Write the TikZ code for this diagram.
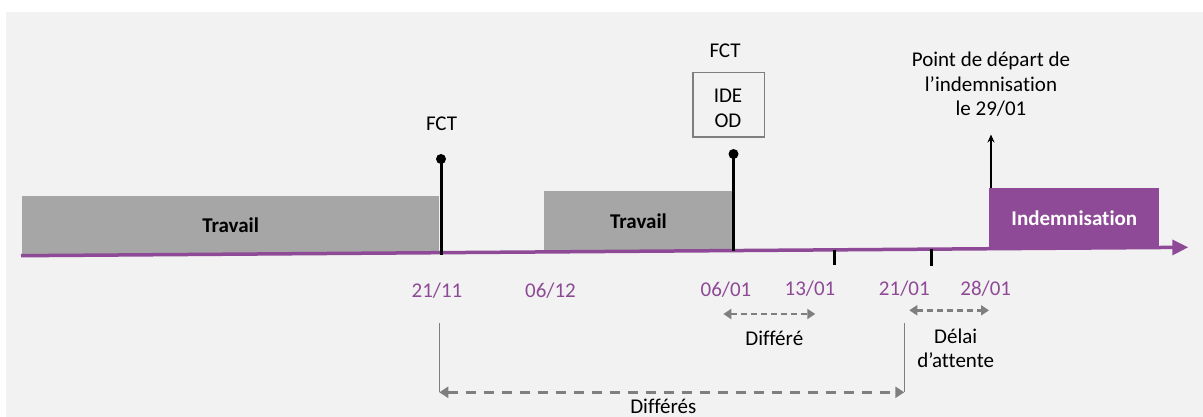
\documentclass[tikz,border=0pt]{standalone}
\usepackage{fontspec}
\setmainfont{Carlito}[Ligatures=CommonOff]
\usetikzlibrary{arrows.meta}
\definecolor{panelbg}{HTML}{F2F2F2}
\definecolor{boxgray}{HTML}{A6A6A6}
\definecolor{purp}{HTML}{8E4A96}
\definecolor{dgray}{HTML}{7F7F7F}
\begin{document}
\begin{tikzpicture}[x=1pt,y=-1pt,
  every node/.style={inner sep=0pt, outer sep=0pt, font=\fontsize{21}{24.5}\selectfont},
  workbox/.style={fill=boxgray, anchor=north west, font=\fontsize{21}{24.5}\selectfont\bfseries},
  indbox/.style={fill=purp, anchor=north west, text=white, font=\fontsize{21}{24.5}\selectfont\bfseries},
  datelbl/.style={text=purp},
  fctdot/.style={circle, fill=black, minimum size=10pt},
  stem/.style={line width=3pt, black},
  tick/.style={line width=3pt, black},
  axisline/.style={line width=3.5pt, purp, -{Triangle[length=16pt,width=15pt]}},
  dashshort/.style={dgray, line width=2.5pt, dash pattern=on 6pt off 4pt,
     {Triangle[length=8pt,width=10pt]}-{Triangle[length=8pt,width=10pt]}},
  dashlong/.style={dgray, line width=2.5pt, dash pattern=on 10pt off 8pt,
     {Triangle[length=9pt,width=11pt]}-{Triangle[length=9pt,width=11pt]}},
  bracket/.style={dgray, line width=1.5pt},
  uparrow/.style={line width=2.5pt, black, -{Stealth[length=8pt,width=7pt]}}
]
\useasboundingbox (0,0) rectangle (1203,417);
\fill[panelbg] (6,12) rectangle (1203,417);

% periods
\node[workbox, minimum width=417.3pt, minimum height=58pt] (w1) at (22,196) {Travail};
\node[workbox, minimum width=189pt, minimum height=60pt] (w2) at (544,191) {Travail};
\node[indbox, minimum width=170pt, minimum height=59.5pt] (ind) at (989.3,188.3) {Indemnisation};

% axis
\coordinate (axL) at (21,255.7);
\coordinate (axR) at (1188.3,247.3);
\draw[axisline] (axL) -- (axR);

% FCT 1
\node (fct1) at (441.5,124) {FCT};
\node[fctdot] (d1) at (441,159) {};
\coordinate (b1) at (441,254.5);
\draw[stem] (d1.center) -- (b1);

% FCT 2
\node (fct2) at (725,50.7) {FCT};
\node[draw=dgray, line width=1.6pt, minimum width=71.6pt, minimum height=64.3pt] (idebox) at (728.5,104.85) {};
\node[align=center] (ide) at (728,108.4) {IDE\\OD};
\node[fctdot] (d2) at (733.5,154) {};
\coordinate (b2) at (733.5,251);
\draw[stem] (d2.center) -- (b2);

% ticks
\coordinate (t1a) at (834,249.5);
\coordinate (t1b) at (834,264.5);
\coordinate (t2a) at (931,248.8);
\coordinate (t2b) at (931,266);
\draw[tick] (t1a) -- (t1b);
\draw[tick] (t2a) -- (t2b);

% start of indemnisation
\coordinate (upS) at (991,188.3);
\coordinate (upE) at (991,134.5);
\draw[uparrow] (upS) -- (upE);
\node[align=center] (start) at (991,84.3) {Point de départ de\\l’indemnisation\\le 29/01};

% dates
\node[datelbl] (dt1) at (437,290.7) {21/11};
\node[datelbl] (dt2) at (550.5,290.7) {06/12};
\node[datelbl] (dt3) at (726,290) {06/01};
\node[datelbl] (dt4) at (810,288.3) {13/01};
\node[datelbl] (dt5) at (904.3,288.3) {21/01};
\node[datelbl] (dt6) at (985.7,288.3) {28/01};

% différé
\coordinate (df1) at (723.3,314);
\coordinate (df2) at (815.3,314);
\draw[dashshort] (df1) -- (df2);
\node (dflbl) at (774.3,338.3) {Différé};

% délai d'attente
\coordinate (da1) at (909.3,310.3);
\coordinate (da2) at (989,310.3);
\draw[dashshort] (da1) -- (da2);
\node[align=center] (dalbl) at (955.7,348.3) {Délai\\d’attente};

% différés
\coordinate (v1a) at (439.3,322.7);
\coordinate (v1b) at (439.3,392.3);
\coordinate (v2a) at (904.3,323.3);
\coordinate (v2b) at (904.3,392.3);
\draw[bracket] (v1a) -- (v1b);
\draw[bracket] (v2a) -- (v2b);
\draw[dashlong] (v1b) -- (v2b);
\node (dfslbl) at (663.3,406.8) {Différés};
\end{tikzpicture}
\end{document}
